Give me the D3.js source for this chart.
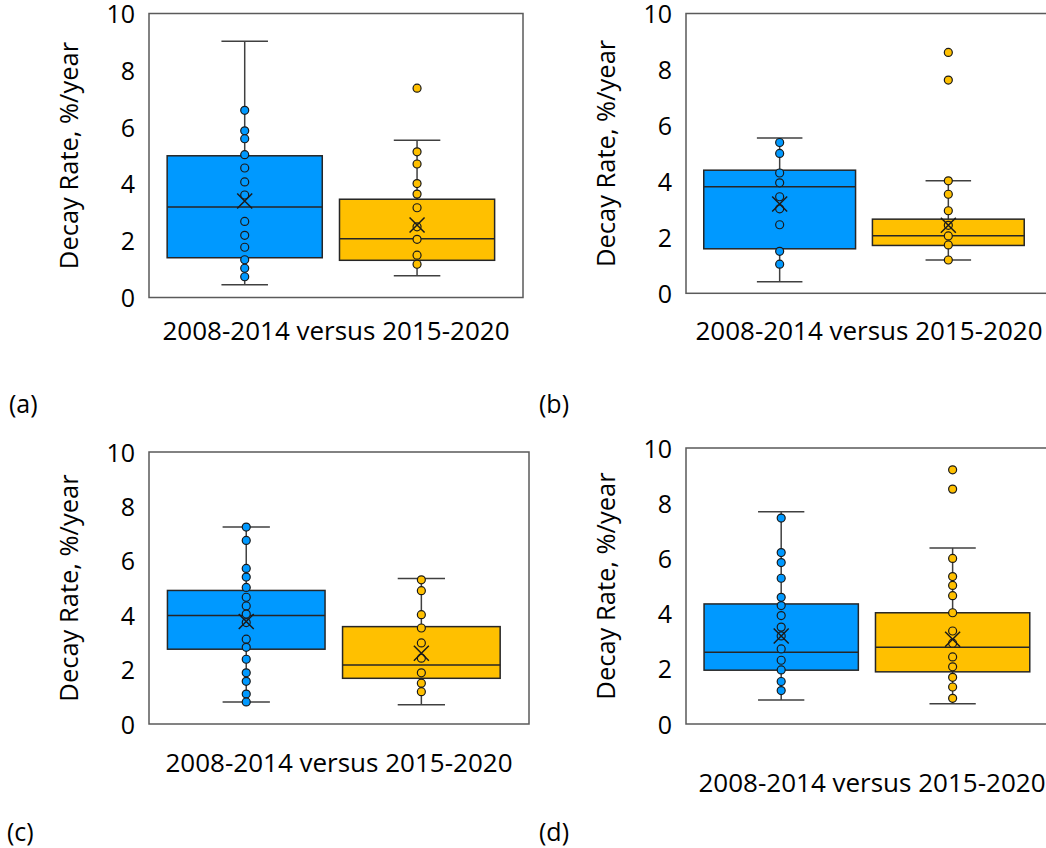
<!DOCTYPE html>
<html>
<head>
<meta charset="utf-8">
<script src="https://cdn.jsdelivr.net/npm/d3@7"></script>
<style>
  body { margin: 0; background: #fff; }
  svg text { font-family: "Open Sans", sans-serif; fill: #000; }
</style>
</head>
<body>
<div id="chart"></div>
<script>
// two periods compared in every panel
var groups = ["2008-2014", "2015-2020"];
var yTicks = [0, 2, 4, 6, 8, 10];
var panelTags = ["(a)", "(b)", "(c)", "(d)"];
var xTitle = "2008-2014 versus 2015-2020";
var yTitle = "Decay Rate, %/year";

// box stats per group: [whisker low, q1, median, q3, whisker high, mean]
var boxA = [[0.45, 1.40, 3.19, 4.99, 9.02, 3.40], [0.77, 1.31, 2.07, 3.46, 5.54, 2.55]];
var boxB = [[0.41, 1.59, 3.81, 4.40, 5.55, 3.19], [1.19, 1.71, 2.06, 2.65, 4.02, 2.43]];
var boxC = [[0.81, 2.75, 3.99, 4.91, 7.24, 3.77], [0.71, 1.68, 2.17, 3.58, 5.35, 2.60]];
var boxD = [[0.87, 1.95, 2.60, 4.35, 7.69, 3.19], [0.73, 1.89, 2.78, 4.03, 6.38, 3.07]];

// individual points per group
var pointsA = [[6.59, 5.87, 5.59, 5.03, 4.56, 4.07, 3.61, 2.68, 2.19, 1.77, 1.33, 1.03, 0.73],
               [7.37, 5.13, 4.70, 4.01, 3.64, 3.16, 2.49, 2.05, 1.49, 1.17]];
var pointsB = [[5.39, 5.00, 4.30, 3.95, 3.45, 3.02, 2.45, 1.50, 1.04],
               [8.61, 7.62, 4.02, 3.54, 2.95, 2.43, 2.05, 1.73, 1.19]];
var pointsC = [[7.24, 6.75, 5.72, 5.40, 5.02, 4.66, 4.34, 4.04, 3.73, 3.12, 2.82, 2.38, 1.88, 1.57, 1.10, 0.81],
               [5.30, 4.90, 4.02, 3.53, 2.98, 2.42, 1.88, 1.50, 1.19]];
var pointsD = [[7.46, 6.21, 5.85, 5.28, 4.59, 4.29, 3.93, 3.51, 3.19, 2.72, 2.31, 1.96, 1.54, 1.21],
               [9.21, 8.51, 6.00, 5.34, 5.02, 4.65, 4.03, 3.37, 2.93, 2.43, 2.07, 1.69, 1.34, 0.93]];

var colors = ["#0099ff", "#ffc000"];

var svg = d3.select("#chart")
  .append("svg")
  .attr("width", 1046)
  .attr("height", 848);

// frame boxes of each panel: [left, top, right, bottom], plus text spots
var panels = [
  {area: [149, 13.5, 523, 297.5], box: boxA, pts: pointsA, yl: 71, xl: 340, tag: [9, 413]},
  {area: [686, 13.5, 1052, 293.3], box: boxB, pts: pointsB, yl: 608, xl: 340, tag: [539, 413]},
  {area: [149, 452, 529, 724], box: boxC, pts: pointsC, yl: 71, xl: 772, tag: [7, 841]},
  {area: [686, 448, 1058, 724], box: boxD, pts: pointsD, yl: 608, xl: 792, tag: [539, 841]}
];

panels.forEach(function (p, i) {
  drawPanel(p, panelTags[i]);
});

function drawPanel(p, tag) {
  var a = p.area;
  var g = svg.append("g");

  var x = d3.scaleBand()
    .domain(groups)
    .range([a[0], a[2]])
    .paddingInner(0.1)
    .paddingOuter(0.135)
    .align(0.39);

  var y = d3.scaleLinear()
    .domain([0, 10])
    .range([a[3], a[1]]);

  // frame
  g.append("rect")
    .attr("x", a[0])
    .attr("y", a[1])
    .attr("width", a[2] - a[0])
    .attr("height", a[3] - a[1])
    .attr("fill", "none")
    .attr("stroke", "#5a5a5a")
    .attr("stroke-width", 1.5);

  // y tick labels
  var yAxis = g.append("g")
    .attr("transform", `translate(${a[0]},0)`)
    .call(d3.axisLeft(y).tickValues(yTicks).tickSize(0).tickPadding(14));
  yAxis.select(".domain").remove();
  yAxis.selectAll("text")
    .attr("dy", "0.36em")
    .style("font-size", "25px")
    .style("font-family", "'Open Sans', sans-serif");

  g.append("text")
    .attr("transform", `translate(${p.yl},${(a[1] + a[3]) / 2}) rotate(-90)`)
    .attr("text-anchor", "middle")
    .attr("dominant-baseline", "middle")
    .style("font-size", "25.5px")
    .text(yTitle);

  g.append("text")
    .attr("x", (a[0] + a[2]) / 2)
    .attr("y", p.xl)
    .attr("text-anchor", "middle")
    .style("font-size", "26px")
    .text(xTitle);

  svg.append("text")
    .attr("x", p.tag[0])
    .attr("y", p.tag[1])
    .style("font-size", "25px")
    .text(tag);

  var bw = x.bandwidth();
  var capW = bw * 0.3;

  groups.forEach(function (grp, k) {
    var s = p.box[k];
    var cx = x(grp) + bw / 2;
    var gg = g.append("g");

    // whiskers
    gg.selectAll("line.whisker")
      .data([[s[0], s[1]], [s[3], s[4]]])
      .enter().append("line")
      .attr("x1", cx).attr("x2", cx)
      .attr("y1", function (d) { return y(d[0]); })
      .attr("y2", function (d) { return y(d[1]); })
      .attr("stroke", "#404040")
      .attr("stroke-width", 1.5);

    gg.selectAll("line.cap")
      .data([s[0], s[4]])
      .enter().append("line")
      .attr("x1", cx - capW / 2).attr("x2", cx + capW / 2)
      .attr("y1", function (d) { return y(d); })
      .attr("y2", function (d) { return y(d); })
      .attr("stroke", "#404040")
      .attr("stroke-width", 1.5);

    // box
    gg.append("rect")
      .attr("x", x(grp))
      .attr("y", y(s[3]))
      .attr("width", bw)
      .attr("height", y(s[1]) - y(s[3]))
      .attr("fill", colors[k])
      .attr("stroke", "#262626")
      .attr("stroke-width", 1.5);

    gg.append("line")
      .attr("x1", x(grp)).attr("x2", x(grp) + bw)
      .attr("y1", y(s[2])).attr("y2", y(s[2]))
      .attr("stroke", "#262626")
      .attr("stroke-width", 1.5);

    // points
    gg.selectAll("circle")
      .data(p.pts[k])
      .enter().append("circle")
      .attr("cx", cx)
      .attr("cy", function (d) { return y(d); })
      .attr("r", 4)
      .attr("fill", colors[k])
      .attr("stroke", "#1a1a1a")
      .attr("stroke-width", 1.2);

    // mean marker
    var my = y(s[5]);
    gg.append("path")
      .attr("d", `M${cx - 7.5},${my - 7.5}L${cx + 7.5},${my + 7.5}M${cx - 7.5},${my + 7.5}L${cx + 7.5},${my - 7.5}`)
      .attr("stroke", "#1a1a1a")
      .attr("stroke-width", 1.5)
      .attr("fill", "none");
  });
}
</script>
</body>
</html>
